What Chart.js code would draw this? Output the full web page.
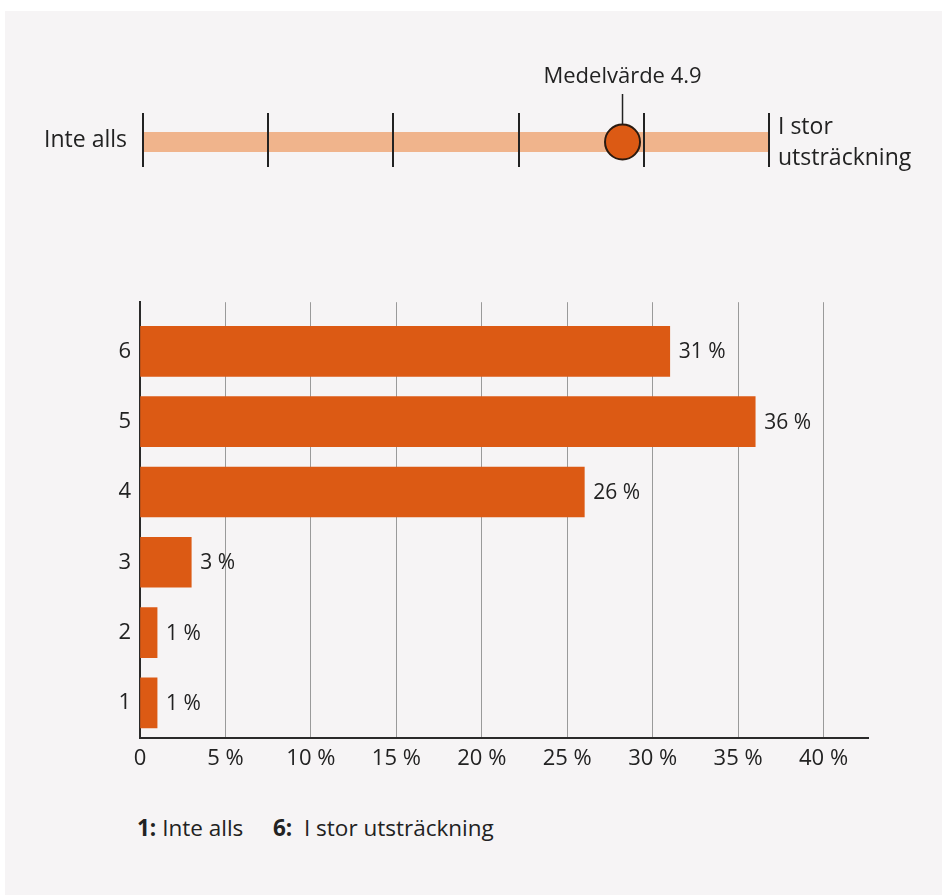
<!DOCTYPE html>
<html>
<head>
<meta charset="utf-8">
<script src="https://cdn.jsdelivr.net/npm/chart.js@4/dist/chart.umd.min.js"></script>
<style>
  html, body { margin: 0; padding: 0; background: #fff; }
  body { width: 942px; height: 895px; position: relative; overflow: hidden; font-family: 'Open Sans', sans-serif; }
  #panel { position: absolute; left: 5px; top: 11px; right: 0; bottom: 0; background: #f6f4f5; }
  #gauge { position: absolute; left: 0; top: 0; }
  #bars { position: absolute; left: 0; top: 280px; }
  .note { position: absolute; top: 812px; font-size: 22.5px; color: #222; white-space: pre; }
  .note b { font-weight: 700; }
</style>
</head>
<body>
<div id="panel"></div>
<canvas id="gauge" width="942" height="200"></canvas>
<canvas id="bars" width="942" height="520"></canvas>
<div class="note" style="left:137px"><b>1:</b> Inte alls</div>
<div class="note" style="left:273px"><b>6:</b>  I stor utsträckning</div>
<script>
const FONT = "'Open Sans', sans-serif";
const ORANGE = '#dc5a14';

// scale 1..6, mean marker
const scaleSteps = [1, 2, 3, 4, 5, 6];
const meanPos = 4.83;
const meanLabel = 'Medelvärde 4.9';
const lowLabel = 'Inte alls';
const highLabel = ['I stor', 'utsträckning'];

// answers
const categories = [1, 2, 3, 4, 5, 6];
const shares = [1, 1, 3, 26, 36, 31];
const xTicks = [0, 5, 10, 15, 20, 25, 30, 35, 40];

Chart.defaults.font.family = FONT;
Chart.defaults.color = '#222';

const gaugeText = {
  id: 'gaugeText',
  afterDatasetsDraw(chart) {
    const { ctx } = chart;
    const x = chart.scales.x, y = chart.scales.y;
    const mx = x.getPixelForValue(meanPos), my = y.getPixelForValue(0);
    ctx.save();
    ctx.fillStyle = '#222';
    ctx.font = '22px ' + FONT;
    ctx.textBaseline = 'middle';
    ctx.textAlign = 'center';
    ctx.fillText(meanLabel, mx, 77);
    ctx.strokeStyle = '#222';
    ctx.lineWidth = 1.5;
    ctx.beginPath();
    ctx.moveTo(mx, 94);
    ctx.lineTo(mx, my - 18);
    ctx.stroke();
    ctx.font = '23px ' + FONT;
    ctx.textAlign = 'right';
    ctx.fillText(lowLabel, x.getPixelForValue(1) - 16, my - 2);
    ctx.textAlign = 'left';
    ctx.fillText(highLabel[0], x.getPixelForValue(6) + 9, my - 15);
    ctx.fillText(highLabel[1], x.getPixelForValue(6) + 9, my + 16);
    ctx.restore();
  }
};

new Chart(document.getElementById('gauge'), {
  type: 'line',
  data: {
    datasets: [{
      data: [{ x: scaleSteps[0], y: 0 }, { x: scaleSteps[scaleSteps.length - 1], y: 0 }],
      borderColor: '#f0b48c',
      borderWidth: 20,
      borderCapStyle: 'butt',
      pointRadius: 0,
      order: 2
    }, {
      type: 'scatter',
      data: [{ x: meanPos, y: 0 }],
      pointRadius: 17.5,
      backgroundColor: ORANGE,
      borderColor: '#2a1a10',
      borderWidth: 2,
      order: 1
    }]
  },
  options: {
    responsive: false,
    animation: false,
    layout: { padding: { left: 143, right: 173, top: 113, bottom: 33 } },
    plugins: { legend: { display: false }, tooltip: { enabled: false } },
    scales: {
      x: {
        type: 'linear', min: 1, max: 6,
        afterBuildTicks: s => { s.ticks = scaleSteps.map(v => ({ value: v })); },
        afterFit: s => { s.height = 0; },
        grid: { color: '#222', lineWidth: 2, drawTicks: false, z: 1 },
        border: { display: false },
        ticks: { display: false }
      },
      y: { display: false, min: -1, max: 1.16 }
    }
  },
  plugins: [gaugeText]
});

const valueLabels = {
  id: 'valueLabels',
  afterDatasetsDraw(chart) {
    const { ctx } = chart;
    ctx.save();
    ctx.fillStyle = '#222';
    ctx.font = '21px ' + FONT;
    ctx.textBaseline = 'middle';
    ctx.textAlign = 'left';
    chart.getDatasetMeta(0).data.forEach((bar, i) => {
      ctx.fillText(shares[i] + ' %', bar.x + 9, bar.y + 1);
    });
    ctx.restore();
  }
};

new Chart(document.getElementById('bars'), {
  type: 'bar',
  data: {
    datasets: [{
      data: categories.map((c, i) => ({ x: shares[i], y: c })),
      backgroundColor: ORANGE,
      barThickness: 50
    }]
  },
  options: {
    indexAxis: 'y',
    responsive: false,
    animation: false,
    layout: { padding: { left: 0, right: 74, top: 17, bottom: 22 } },
    plugins: { legend: { display: false }, tooltip: { enabled: false } },
    scales: {
      x: {
        type: 'linear', min: 0, max: 42.6,
        afterBuildTicks: s => { s.ticks = xTicks.map(v => ({ value: v })); },
        afterFit: s => { s.height = 40; },
        grid: { color: c => c.tick && c.tick.value === 0 ? 'rgba(0,0,0,0)' : '#9a9a9a', lineWidth: 1, drawTicks: false },
        border: { display: true, color: '#2a2a2a', width: 2 },
        ticks: { font: { size: 22 }, padding: 8, callback: v => v === 0 ? '0' : v + ' %' }
      },
      y: {
        type: 'linear', min: 0.5, max: 6.7, offset: false,
        afterBuildTicks: s => { s.ticks = categories.map(v => ({ value: v })); },
        afterFit: s => { s.width = 140; },
        grid: { display: false, drawTicks: false },
        border: { display: true, color: '#2a2a2a', width: 2 },
        ticks: { font: { size: 22 }, padding: 9 }
      }
    }
  },
  plugins: [valueLabels]
});
</script>
</body>
</html>
